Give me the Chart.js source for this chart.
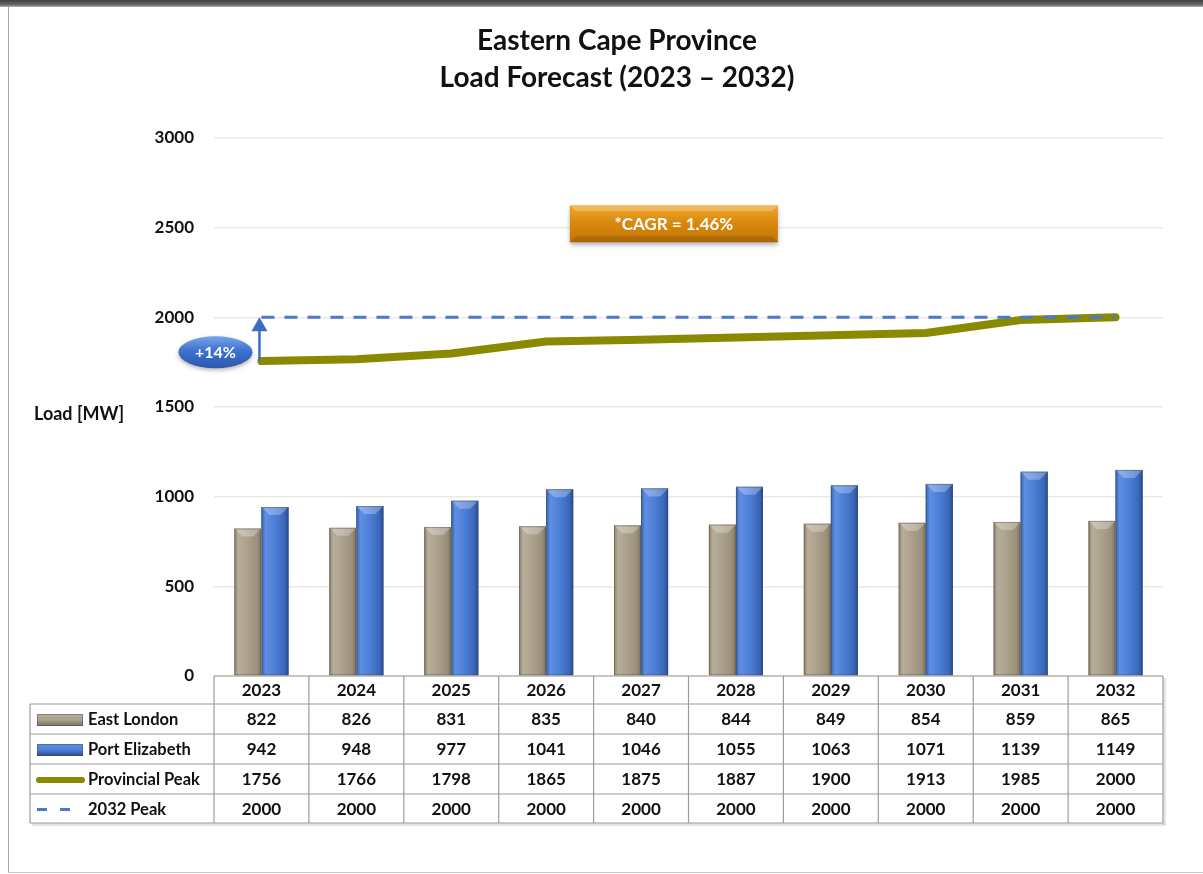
<!DOCTYPE html>
<html>
<head>
<meta charset="utf-8">
<title>Eastern Cape Province Load Forecast</title>
<script src="https://cdn.jsdelivr.net/npm/chart.js@4.4.0/dist/chart.umd.min.js"></script>
<style>
  html, body { margin: 0; padding: 0; background: #fff; }
  #wrap { position: relative; width: 1203px; height: 874px; overflow: hidden; }
  #topbar { position: absolute; left: 0; top: 0; width: 1203px; height: 7px;
            background: linear-gradient(#3f3f3f, #6a6a6a 70%, #b5b5b5); }
  #leftline { position: absolute; left: 8px; top: 7px; width: 1px; height: 866px; background: #a8a8a8; }
  #bottomline { position: absolute; left: 8px; top: 872px; width: 1195px; height: 1px; background: #c8c8c8; }
  canvas { position: absolute; left: 0; top: 0; }
</style>
</head>
<body>
<div id="wrap">
  <canvas id="loadChart" width="1203" height="874"></canvas>
  <div id="topbar"></div>
  <div id="leftline"></div>
  <div id="bottomline"></div>
</div>
<script>
// ---- data ----
const years = ["2023", "2024", "2025", "2026", "2027", "2028", "2029", "2030", "2031", "2032"];
const eastLondon = [822, 826, 831, 835, 840, 844, 849, 854, 859, 865];
const portElizabeth = [942, 948, 977, 1041, 1046, 1055, 1063, 1071, 1139, 1149];
const provincialPeak = [1756, 1766, 1798, 1865, 1875, 1887, 1900, 1913, 1985, 2000];
const peak2032 = [2000, 2000, 2000, 2000, 2000, 2000, 2000, 2000, 2000, 2000];
const yTicks = [0, 500, 1000, 1500, 2000, 2500, 3000];

const titleLines = ["Eastern Cape Province", "Load Forecast (2023 \u2013 2032)"];
const cagrText = "*CAGR = 1.46%";
const growthText = "+14%";

const FONT = "Lato, 'Open Sans', 'DejaVu Sans', sans-serif";
const OLIVE = "#8a8a00";
const DASH_BLUE = "#4a78cc";

const barShades = {
    tan: ["#8d826d", "#b8ad99", "#aba08c", "#9b8f7a", "#7b705d"],
    blue: ["#3562b4", "#5e8fe2", "#4d7ed6", "#3b67ba", "#2a4c92"]
};

function shadeGradient(ctx, x0, x1, stops) {
    const g = ctx.createLinearGradient(x0, 0, x1, 0);
    g.addColorStop(0, stops[0]);
    g.addColorStop(0.15, stops[1]);
    g.addColorStop(0.5, stops[2]);
    g.addColorStop(0.85, stops[3]);
    g.addColorStop(1, stops[4]);
    return g;
}

// bevelled column, used for the bars
function drawColumn(ctx, left, top, w, h, stops) {
    ctx.save();
    ctx.fillStyle = shadeGradient(ctx, left, left + w, stops);
    ctx.fillRect(left, top, w, h);
    const bev = Math.min(w * 0.3, 8);
    ctx.fillStyle = "rgba(255,255,255,0.28)";
    ctx.beginPath();
    ctx.moveTo(left, top);
    ctx.lineTo(left + w, top);
    ctx.lineTo(left + w - bev, top + bev);
    ctx.lineTo(left + bev, top + bev);
    ctx.closePath();
    ctx.fill();
    ctx.strokeStyle = "rgba(60,60,60,0.35)";
    ctx.lineWidth = 1;
    ctx.strokeRect(left + 0.5, top + 0.5, w - 1, h - 1);
    ctx.restore();
}

const barStyler = {
    id: "barStyler",
    afterDatasetDraw(chart, args) {
        const meta = args.meta;
        if (meta.type !== "bar") return;
        const label = chart.data.datasets[args.index].label;
        const stops = label === "East London" ? barShades.tan : barShades.blue;
        const ctx = chart.ctx;
        meta.data.forEach(bar => {
            const left = bar.x - bar.width / 2;
            drawColumn(ctx, left, bar.y, bar.width, bar.base - bar.y, stops);
        });
    }
};

const extras = {
    id: "extras",
    beforeDraw(chart) {
        const ctx = chart.ctx;
        ctx.save();
        ctx.fillStyle = "#111";
        ctx.textAlign = "center";
        ctx.textBaseline = "middle";
        ctx.font = "bold 28px " + FONT;
        ctx.fillText(titleLines[0], 617, 41);
        ctx.fillText(titleLines[1], 617, 78);
        ctx.font = "bold 18px " + FONT;
        ctx.textAlign = "left";
        ctx.fillText("Load [MW]", 34, 414);
        ctx.restore();
    },
    afterDraw(chart) {
        const ctx = chart.ctx;
        const xs = chart.scales.x;
        const ys = chart.scales.y;
        const area = chart.chartArea;
        const colW = (area.right - area.left) / years.length;

        // growth arrow from the 2023 peak up to the 2032 level
        const ax = xs.getPixelForValue(0) - 2;
        const aTop = ys.getPixelForValue(peak2032[0]);
        const aBot = ys.getPixelForValue(provincialPeak[0]);
        ctx.save();
        ctx.strokeStyle = "#3a6cc4";
        ctx.lineWidth = 2.5;
        ctx.beginPath();
        ctx.moveTo(ax, aBot);
        ctx.lineTo(ax, aTop + 12);
        ctx.stroke();
        ctx.fillStyle = "#3a6cc4";
        ctx.beginPath();
        ctx.moveTo(ax, aTop);
        ctx.lineTo(ax - 8, aTop + 14);
        ctx.lineTo(ax + 8, aTop + 14);
        ctx.closePath();
        ctx.fill();

        // +14% ellipse
        const ex = ax - 44, ey = (aTop + aBot) / 2 + 13;
        ctx.shadowColor = "rgba(0,0,0,0.3)";
        ctx.shadowBlur = 4;
        ctx.shadowOffsetY = 2;
        const eg = ctx.createLinearGradient(0, ey - 16, 0, ey + 16);
        eg.addColorStop(0, "#7aa3ec");
        eg.addColorStop(0.45, "#3f72cf");
        eg.addColorStop(1, "#2a58ac");
        ctx.fillStyle = eg;
        ctx.beginPath();
        ctx.ellipse(ex, ey, 37, 16, 0, 0, Math.PI * 2);
        ctx.fill();
        ctx.shadowColor = "transparent";
        ctx.fillStyle = "#fff";
        ctx.font = "bold 16px " + FONT;
        ctx.textAlign = "center";
        ctx.textBaseline = "middle";
        ctx.fillText(growthText, ex, ey + 1);

        // CAGR box
        const bx = area.left + colW * 3.75, bw = 208;
        const by = ys.getPixelForValue(2625), bh = 37;
        ctx.shadowColor = "rgba(0,0,0,0.35)";
        ctx.shadowBlur = 5;
        ctx.shadowOffsetY = 3;
        const og = ctx.createLinearGradient(0, by, 0, by + bh);
        og.addColorStop(0, "#f0a52a");
        og.addColorStop(0.5, "#d8880c");
        og.addColorStop(1, "#c17406");
        ctx.fillStyle = og;
        ctx.fillRect(bx, by, bw, bh);
        ctx.shadowColor = "transparent";
        ctx.fillStyle = "rgba(255,255,255,0.25)";
        ctx.beginPath();
        ctx.moveTo(bx, by); ctx.lineTo(bx + bw, by);
        ctx.lineTo(bx + bw - 6, by + 6); ctx.lineTo(bx + 6, by + 6);
        ctx.closePath(); ctx.fill();
        ctx.fillStyle = "rgba(0,0,0,0.12)";
        ctx.beginPath();
        ctx.moveTo(bx, by + bh); ctx.lineTo(bx + bw, by + bh);
        ctx.lineTo(bx + bw - 6, by + bh - 6); ctx.lineTo(bx + 6, by + bh - 6);
        ctx.closePath(); ctx.fill();
        ctx.fillStyle = "#fff";
        ctx.font = "bold 17px " + FONT;
        ctx.fillText(cagrText, bx + bw / 2, by + bh / 2 + 1);
        ctx.restore();

        drawTable(chart, colW);
    }
};

function drawTable(chart, colW) {
    const ctx = chart.ctx;
    const area = chart.chartArea;
    const xs = chart.scales.x;
    const tLeft = 30;
    const top = area.bottom;
    const rowsY = [top, top + 28, top + 58, top + 88, top + 118, top + 147];
    const rows = [
        { label: "East London", values: eastLondon, swatch: "tan" },
        { label: "Port Elizabeth", values: portElizabeth, swatch: "blue" },
        { label: "Provincial Peak", values: provincialPeak, swatch: "line" },
        { label: "2032 Peak", values: peak2032, swatch: "dash" }
    ];

    ctx.save();
    // soft shadow under the table
    ctx.fillStyle = "rgba(0,0,0,0.10)";
    ctx.fillRect(tLeft + 2, rowsY[5], area.right - tLeft, 3);
    ctx.fillRect(area.right, rowsY[1] + 2, 3, rowsY[5] - rowsY[1]);
    ctx.fillRect(area.right, top + 2, 3, rowsY[1] - top);

    ctx.strokeStyle = "#9c9c9c";
    ctx.lineWidth = 1.2;
    ctx.beginPath();
    // header row (years only)
    ctx.moveTo(area.left, rowsY[0]); ctx.lineTo(area.right, rowsY[0]);
    for (let r = 1; r < rowsY.length; r++) {
        ctx.moveTo(tLeft, rowsY[r]);
        ctx.lineTo(area.right, rowsY[r]);
    }
    ctx.moveTo(tLeft, rowsY[1]); ctx.lineTo(tLeft, rowsY[5]);
    for (let c = 0; c <= years.length; c++) {
        const x = area.left + c * colW;
        ctx.moveTo(x, rowsY[0]);
        ctx.lineTo(x, rowsY[5]);
    }
    ctx.stroke();

    ctx.fillStyle = "#111";
    ctx.font = "bold 17px " + FONT;
    ctx.textAlign = "center";
    ctx.textBaseline = "middle";
    years.forEach((yr, i) => {
        ctx.fillText(yr, xs.getPixelForValue(i), (rowsY[0] + rowsY[1]) / 2 + 1);
    });

    rows.forEach((row, r) => {
        const cy = (rowsY[r + 1] + rowsY[r + 2]) / 2 + 1;
        ctx.font = "bold 17px " + FONT;
        row.values.forEach((v, i) => {
            ctx.fillStyle = "#111";
            ctx.textAlign = "center";
            ctx.fillText(String(v), xs.getPixelForValue(i), cy);
        });
        // legend key
        if (row.swatch === "tan" || row.swatch === "blue") {
            const st = row.swatch === "tan" ? barShades.tan : barShades.blue;
            const g = ctx.createLinearGradient(0, cy - 6, 0, cy + 6);
            g.addColorStop(0, st[1]);
            g.addColorStop(0.5, st[2]);
            g.addColorStop(1, st[4]);
            ctx.fillStyle = g;
            ctx.fillRect(37, cy - 6, 46, 12);
            ctx.strokeStyle = "rgba(60,60,60,0.4)";
            ctx.lineWidth = 1;
            ctx.strokeRect(37.5, cy - 5.5, 45, 11);
        } else if (row.swatch === "line") {
            ctx.strokeStyle = OLIVE;
            ctx.lineWidth = 6;
            ctx.lineCap = "round";
            ctx.beginPath();
            ctx.moveTo(39, cy); ctx.lineTo(82, cy);
            ctx.stroke();
        } else {
            ctx.strokeStyle = DASH_BLUE;
            ctx.lineWidth = 3;
            ctx.lineCap = "butt";
            ctx.beginPath();
            ctx.moveTo(37, cy); ctx.lineTo(47, cy);
            ctx.moveTo(60, cy); ctx.lineTo(70, cy);
            ctx.stroke();
        }
        ctx.fillStyle = "#111";
        ctx.textAlign = "left";
        ctx.font = "bold 16.5px " + FONT;
        ctx.fillText(row.label, 88, cy);
    });
    ctx.restore();
}

new Chart(document.getElementById("loadChart"), {
    data: {
        labels: years,
        datasets: [
            {
                type: "bar",
                label: "East London",
                data: eastLondon,
                backgroundColor: "#aba08c",
                categoryPercentage: 0.57,
                barPercentage: 1.0,
                order: 2
            },
            {
                type: "bar",
                label: "Port Elizabeth",
                data: portElizabeth,
                backgroundColor: "#4d7ed6",
                categoryPercentage: 0.57,
                barPercentage: 1.0,
                order: 2
            },
            {
                type: "line",
                label: "Provincial Peak",
                data: provincialPeak,
                borderColor: OLIVE,
                borderWidth: 8,
                borderCapStyle: "round",
                borderJoinStyle: "round",
                pointRadius: 0,
                tension: 0,
                order: 1
            },
            {
                type: "line",
                label: "2032 Peak",
                data: peak2032,
                borderColor: DASH_BLUE,
                borderWidth: 3,
                borderDash: [13, 10],
                pointRadius: 0,
                tension: 0,
                order: 0
            }
        ]
    },
    options: {
        responsive: false,
        animation: false,
        layout: { padding: { left: 0, right: 40, top: 138, bottom: 198 } },
        plugins: {
            legend: { display: false },
            title: { display: false },
            tooltip: { enabled: false }
        },
        scales: {
            x: { display: false, offset: true },
            y: {
                min: 0,
                max: 3000,
                afterFit(scale) { scale.width = 214; },
                afterBuildTicks(scale) { scale.ticks = yTicks.map(v => ({ value: v })); },
                border: { display: false },
                grid: { color: "#ebeadb", lineWidth: 1.5, drawTicks: false },
                ticks: {
                    padding: 20,
                    color: "#111",
                    font: { family: FONT, size: 17, weight: "bold" },
                    callback: value => String(value)
                }
            }
        }
    },
    plugins: [barStyler, extras]
});
</script>
</body>
</html>
